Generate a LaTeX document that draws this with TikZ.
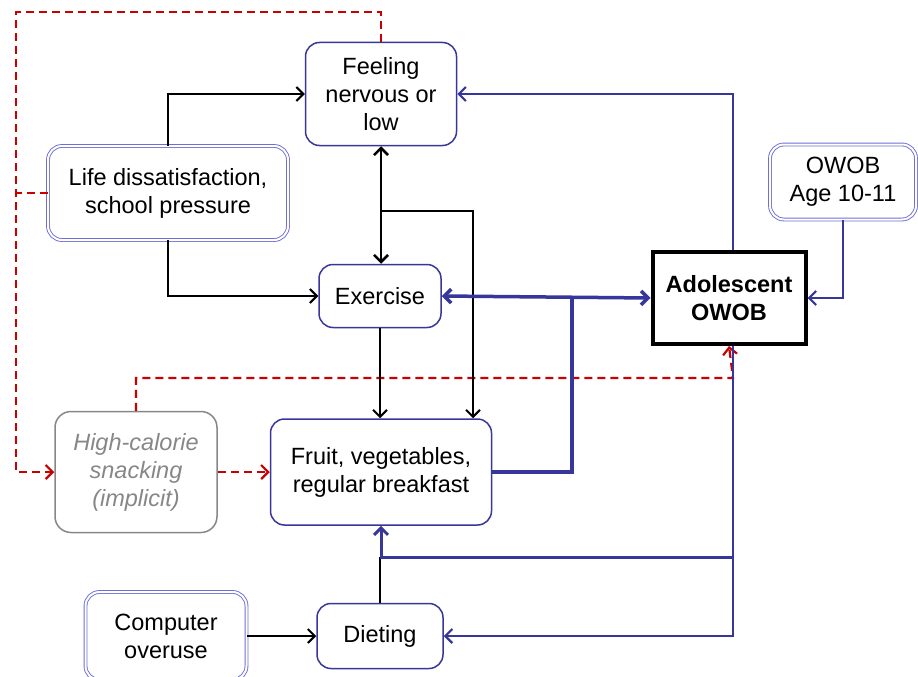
\documentclass[tikz,border=0pt]{standalone}
\usepackage{fontspec}
\setmainfont{Liberation Sans}
\usetikzlibrary{arrows.meta}
\definecolor{navy}{RGB}{55,55,155}
\definecolor{lblue}{RGB}{110,110,215}
\definecolor{dred}{RGB}{200,0,0}
\definecolor{gbord}{RGB}{135,135,135}

\begin{document}
\begin{tikzpicture}[x=1pt,y=-1pt,
  font=\fontsize{23.5}{28}\selectfont,
  >={Straight Barb[length=7pt,width=14pt]},
  box/.style={draw=navy,line width=1.5pt,rounded corners=14pt,align=center},
  dbox/.style={draw=lblue,double=white,double distance=2pt,line width=0.9pt,rounded corners=14pt,align=center},
  gbox/.style={draw=gbord,line width=1.5pt,rounded corners=16pt,align=center,text=gbord,font=\fontsize{23.5}{28}\selectfont\itshape},
  blk/.style={draw,line width=2pt},
  bl/.style={draw=navy,line width=2.2pt},
  blt/.style={draw=navy,line width=3.5pt},
  rdash/.style={draw=dred,line width=2.2pt,dash pattern=on 8pt off 5pt}]
\useasboundingbox (0,0) rectangle (918,677);

% boxes
\node[box,minimum width=151,minimum height=103] (feel) at (381,94) {Feeling\\nervous or\\low};
\node[dbox,minimum width=240,minimum height=94] (life) at (168,193) {Life dissatisfaction,\\school pressure};
\node[dbox,minimum width=146,minimum height=75] (age) at (843,182) {OWOB\\Age 10-11};
\node[box,minimum width=122,minimum height=63] (exer) at (380,296) {Exercise};
\node[draw,line width=4pt,minimum width=153,minimum height=92,align=center,font=\fontsize{23.5}{28}\selectfont\bfseries] (owob) at (729,298) {Adolescent\\OWOB};
\node[gbox,minimum width=162,minimum height=121] (snack) at (136,472) {High-calorie\\snacking\\(implicit)};
\node[box,minimum width=221,minimum height=106] (fruit) at (381,472) {Fruit, vegetables,\\regular breakfast};
\node[dbox,minimum width=161,minimum height=88] (comp) at (166,636) {Computer\\overuse};
\node[box,minimum width=126,minimum height=65] (diet) at (380,636) {Dieting};

\coordinate (fb) at (381,211);
\coordinate (j1) at (572,297);
\coordinate (j2) at (733,557);
\coordinate (tl) at (16,12);
\coordinate (rr) at (733,378);

% red dashed paths
\path[rdash,->] (feel.north) |- (tl) |- (snack.west);
\path[rdash] (life.west) -- (life.west -| tl);
\path[rdash,->] (snack.east) -- (fruit.west);
\path[rdash,->] (snack.north) |- (rr) -- (owob.south);

% black arrows
\path[blk,->] (life.north) |- (feel.west);
\path[blk,->] (life.south) |- (exer.west);
\path[draw,line width=2.5pt,<->] (feel.south) -- (feel.south |- exer.north);
\path[blk,->] (fb) -| ([xshift=92pt]fruit.north);
\path[blk,->] (exer.south) -- (exer.south |- fruit.north);
\path[blk] (diet.north) -- (diet.north |- j2);
\path[blk,->] (comp.east) -- (diet.west);

% blue arrows
\path[bl,->] ([xshift=4pt]owob.north) |- (feel.east);
\path[bl,->] (age.south) |- (owob.east);
\path[blt,<->] (exer.east) -- (owob.west);
\path[blt] (fruit.east) -| (j1);
\path[bl,->] ([xshift=4pt]owob.south) |- (diet.east);
\path[draw=navy,line width=3pt,->] (j2) -| (fruit.south);
\end{tikzpicture}
\end{document}
